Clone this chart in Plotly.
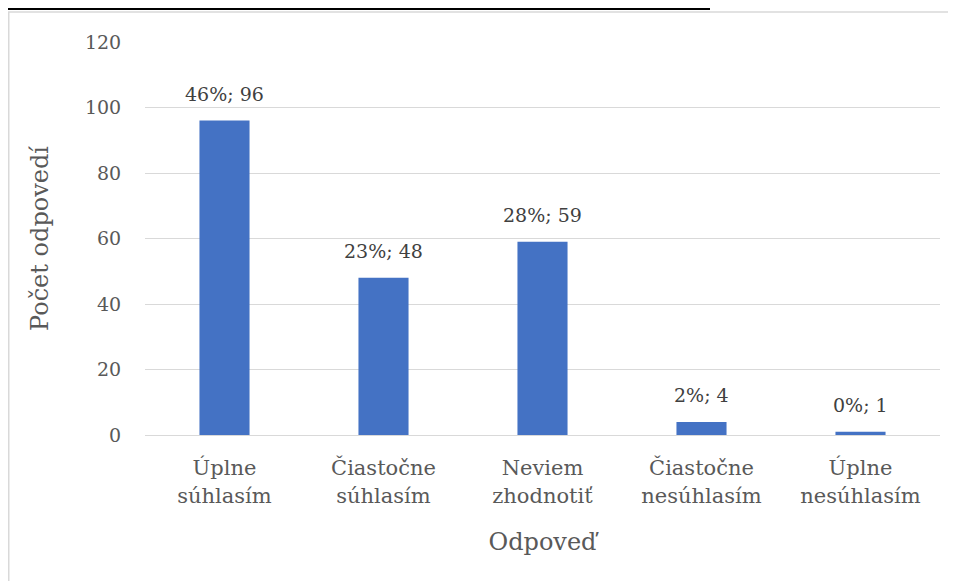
import plotly.graph_objects as go

categories = ["Úplne<br>súhlasím", "Čiastočne<br>súhlasím", "Neviem<br>zhodnotiť",
              "Čiastočne<br>nesúhlasím", "Úplne<br>nesúhlasím"]
values = [96, 48, 59, 4, 1]
percents = ["46%", "23%", "28%", "2%", "0%"]
labels = [f"{p}; {v}" for p, v in zip(percents, values)]
y_ticks = [0, 20, 40, 60, 80, 100, 120]

FONT = "DejaVu Serif"
GRAY = "#595959"

L, R, T, B = 137, 24, 34, 154
PW, PH = 956 - L - R, 581 - T - B

def px_x(x):
    return (x - L) / PW

def px_y(y):
    return 1 - (y - T) / PH

fig = go.Figure(go.Bar(
    x=categories, y=values,
    marker=dict(color="#4472C4", line=dict(width=0)),
))

for c, v, t in zip(categories, values, labels):
    fig.add_annotation(x=c, y=v, text=t, showarrow=False, yanchor="bottom", yshift=14,
                       font=dict(family=FONT, size=19, color="#404040"))

fig.update_layout(
    width=956, height=581,
    paper_bgcolor="white", plot_bgcolor="white",
    margin=dict(l=L, r=R, t=T, b=B),
    bargap=0.685,
    showlegend=False,
    font=dict(family=FONT, color=GRAY),
    xaxis=dict(
        showgrid=False, showline=True, linecolor="#d9d9d9", linewidth=1,
        ticks="outside", ticklen=14, tickcolor="rgba(0,0,0,0)",
        tickfont=dict(family=FONT, size=21, color=GRAY),
        title=dict(text="Odpoveď", font=dict(family=FONT, size=24, color=GRAY), standoff=26),
    ),
    yaxis=dict(
        range=[0, 120], tickvals=y_ticks, showgrid=True, gridcolor="#d9d9d9", gridwidth=1,
        zeroline=False, showline=False,
        ticks="outside", ticklen=19, tickcolor="rgba(0,0,0,0)",
        tickfont=dict(family=FONT, size=19, color=GRAY),
        title=dict(text="Počet odpovedí", font=dict(family=FONT, size=24, color=GRAY), standoff=29),
    ),
    shapes=[
        dict(type="rect", xref="paper", yref="paper", x0=px_x(0.75), x1=px_x(970),
             y0=px_y(600), y1=px_y(4), line=dict(color="#d9d9d9", width=1.5), layer="below"),
        dict(type="line", xref="paper", yref="paper", x0=px_x(0), x1=px_x(702),
             y0=px_y(1), y1=px_y(1), line=dict(color="black", width=2)),
    ],
)

fig.write_html("out.html")
